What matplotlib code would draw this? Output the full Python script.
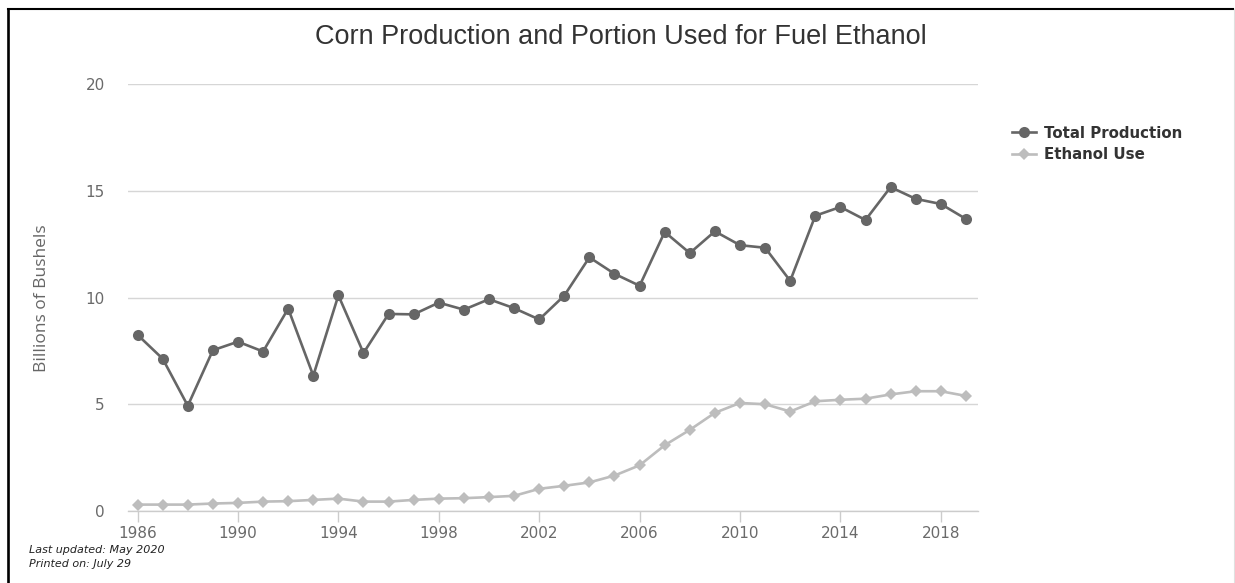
import matplotlib
matplotlib.use("Agg")
import matplotlib.pyplot as plt
from matplotlib.lines import Line2D

# Corn production and the portion used for fuel ethanol (billions of bushels)
years = list(range(1986, 2020))
total_production = [8.25, 7.13, 4.93, 7.53, 7.93, 7.47, 9.48, 6.34, 10.10, 7.40,
                    9.23, 9.21, 9.76, 9.43, 9.92, 9.50, 8.97, 10.09, 11.88, 11.11,
                    10.55, 13.07, 12.08, 13.10, 12.45, 12.33, 10.78, 13.83, 14.24,
                    13.63, 15.17, 14.62, 14.38, 13.68]
ethanol_use = [0.30, 0.30, 0.30, 0.35, 0.38, 0.44, 0.46, 0.52, 0.58, 0.44,
               0.44, 0.52, 0.58, 0.60, 0.65, 0.71, 1.04, 1.18, 1.34, 1.66,
               2.14, 3.08, 3.80, 4.60, 5.06, 5.00, 4.66, 5.14, 5.21, 5.26,
               5.46, 5.61, 5.61, 5.39]
x_ticks = list(range(1986, 2019, 4))
y_ticks = [0, 5, 10, 15, 20]
series_names = ["Total Production", "Ethanol Use"]

W, H = 1235, 583
fig = plt.figure(figsize=(W / 100, H / 100), dpi=100)
fig.patch.set_facecolor("white")

def fx(px):
    return px / W

def fy(py):
    return 1 - py / H

ax = fig.add_axes([fx(128.3), fy(511), fx(977.7) - fx(128.3), fy(84) - fy(511)])

dark = "#666666"
light = "#bdbdbd"

ax.plot(years, total_production, color=dark, lw=1.9, marker="o", ms=8,
        markeredgewidth=0, zorder=4, label=series_names[0])
ax.plot(years, ethanol_use, color=light, lw=1.9, marker="D", ms=6,
        markeredgewidth=0, zorder=3, label=series_names[1])

ax.set_xlim(1985.63, 2019.47)
ax.set_ylim(0, 20)
ax.set_xticks(x_ticks)
ax.set_yticks(y_ticks)

for s in ["top", "right", "left"]:
    ax.spines[s].set_visible(False)
ax.spines["bottom"].set_color("#cccccc")
ax.spines["bottom"].set_linewidth(1)
ax.spines["bottom"].set_zorder(2)

ax.grid(axis="y", color="#d6d6d6", lw=1.0, zorder=1)
ax.set_axisbelow(True)

ax.tick_params(axis="x", direction="out", length=8, width=1, color="#cccccc",
               pad=3, labelsize=11, labelcolor="#6a6a6a")
ax.tick_params(axis="y", length=0, pad=17, labelsize=11, labelcolor="#6a6a6a")

fig.text(fx(42), fy(298), "Billions of Bushels", rotation=90, ha="center",
         va="center", fontsize=12.5, color="#666666", family=["Open Sans", "DejaVu Sans"])

fig.text(fx(621), fy(37), "Corn Production and Portion Used for Fuel Ethanol",
         ha="center", va="center", fontsize=19.5, color="#333333",
         family=["Liberation Sans", "DejaVu Sans"])

handles = [
    Line2D([0], [0], color=dark, lw=1.9, marker="o", ms=8, markeredgewidth=0),
    Line2D([0], [0], color=light, lw=1.9, marker="D", ms=6, markeredgewidth=0),
]
fig.legend(handles, series_names, loc="center left",
           bbox_to_anchor=(fx(1012), fy(144)), frameon=False,
           prop={"weight": "bold", "size": 10.8}, labelcolor="#333333",
           handlelength=1.6, handletextpad=0.5, labelspacing=0.45,
           borderpad=0, borderaxespad=0)

fig.text(fx(29), fy(550), "Last updated: May 2020", ha="left", va="center",
         fontsize=8, style="italic", color="#222222")
fig.text(fx(29), fy(564), "Printed on: July 29", ha="left", va="center",
         fontsize=8, style="italic", color="#222222")

# page frame
fig.add_artist(Line2D([fx(8), fx(8)], [fy(9), 0], color="black", lw=1.9,
                      transform=fig.transFigure))
fig.add_artist(Line2D([fx(8), fx(1233)], [fy(9), fy(9)], color="black", lw=1.5,
                      transform=fig.transFigure))
fig.add_artist(Line2D([fx(1233.5), fx(1233.5)], [fy(9), 0], color="#e0e0e0", lw=0.8,
                      transform=fig.transFigure))

fig.savefig("out.png", dpi=100, facecolor="white")
